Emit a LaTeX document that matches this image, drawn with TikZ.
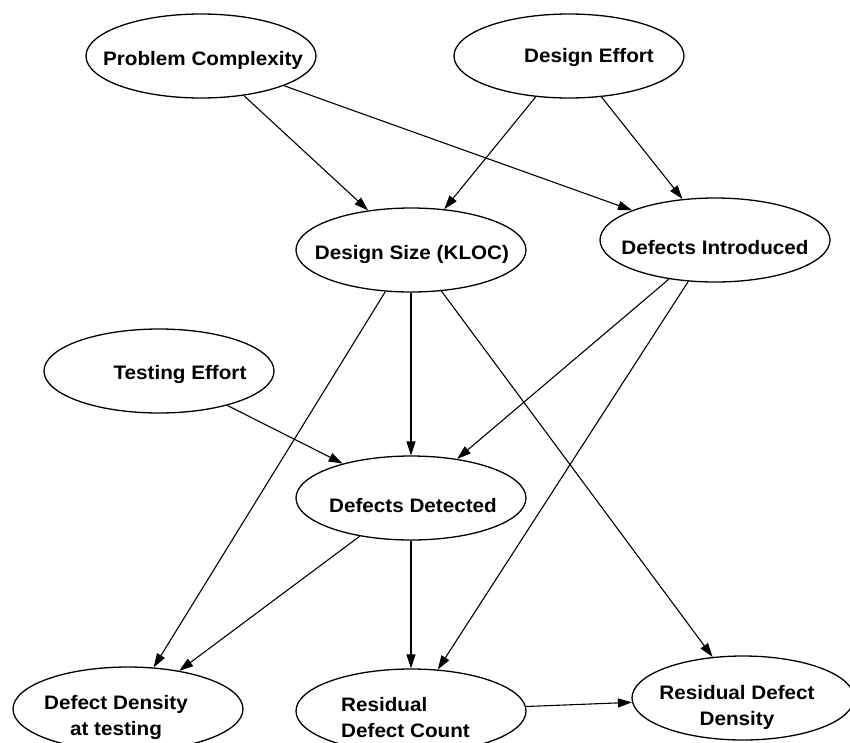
\documentclass[tikz,border=0pt]{standalone}
\usepackage{fontspec}
\setmainfont{Liberation Sans}[FakeStretch=1.06]
\usetikzlibrary{shapes.geometric, arrows.meta}

\begin{document}
\begin{tikzpicture}[x=1pt, y=-1pt,
    var/.style={ellipse, draw=black, line width=1.3pt, minimum width=230pt, minimum height=84pt, inner sep=0pt},
    lbl/.style={font=\fontsize{19.5}{26}\selectfont\bfseries, inner sep=0pt},
    link/.style={-{Triangle[length=14pt, width=9pt]}, line width=1.1pt}]
    \useasboundingbox (0,0) rectangle (850,742);
    \clip (0,0) rectangle (850,742);

    % Variables
    \node[var] (pc) at (201,56) {};
    \node[var] (de) at (569,56) {};
    \node[var] (ds) at (411,250) {};
    \node[var] (di) at (715,240) {};
    \node[var] (te) at (159,371) {};
    \node[var] (dd) at (411,498) {};
    \node[var] (ddt) at (128,709) {};
    \node[var] (rdc) at (411,711) {};
    \node[var, minimum width=222pt] (rdd) at (743,698) {};

    % Labels (base = last line)
    \node[lbl, anchor=base] (pc-t) at (203,65) {Problem Complexity};
    \node[lbl, anchor=base] (de-t) at (589,62) {Design Effort};
    \node[lbl, anchor=base] (ds-t) at (412,259) {Design Size (KLOC)};
    \node[lbl, anchor=base] (di-t) at (715,254) {Defects Introduced};
    \node[lbl, anchor=base] (te-t) at (180,379) {Testing Effort};
    \node[lbl, anchor=base] (dd-t) at (413,512) {Defects Detected};
    \node[lbl, anchor=base, align=center] (ddt-t) at (116,735) {Defect Density\\at testing};
    \node[lbl, anchor=base west, align=left] (rdc-t) at (341,737) {Residual\\Defect Count};
    \node[lbl, anchor=base, align=center] (rdd-t) at (737,725) {Residual Defect\\Density};

    % Links
    \draw[link] (pc) -- (ds);
    \draw[link] (pc) -- (di);
    \draw[link] (de) -- (ds);
    \draw[link] (de) -- (di);
    \draw[link] (ds) -- (dd);
    \draw[link] (di) -- (dd);
    \draw[link] (te) -- (dd);
    \draw[link] (ds) -- (ddt);
    \draw[link] (ds) -- (rdd);
    \draw[link] (di) -- (rdc);
    \draw[link] (dd) -- (ddt);
    \draw[link] (dd) -- (rdc);
    \draw[link] (rdc) -- (rdd);
\end{tikzpicture}
\end{document}
